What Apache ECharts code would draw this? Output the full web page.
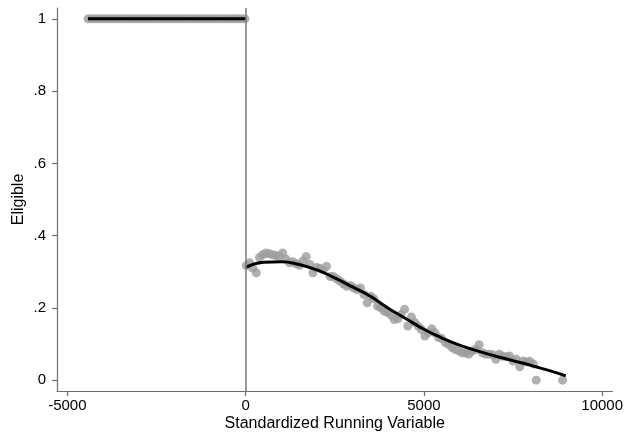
<!DOCTYPE html>
<html>
<head>
<meta charset="utf-8">
<script src="https://cdn.jsdelivr.net/npm/echarts@6/dist/echarts.min.js"></script>
<style>
  html, body { margin: 0; padding: 0; background: #fff; }
  #chart { width: 626px; height: 442px; }
</style>
</head>
<body>
<div id="chart"></div>
<script>
// Binned means below the cutoff (everyone eligible)
const leftX = [-4420, -4320, -4220, -4120, -4020, -3920, -3820, -3720, -3620, -3520,
  -3420, -3320, -3220, -3120, -3020, -2920, -2820, -2720, -2620, -2520,
  -2420, -2320, -2220, -2120, -2020, -1920, -1820, -1720, -1620, -1520,
  -1420, -1320, -1220, -1120, -1020, -920, -820, -720, -620, -520,
  -420, -320, -220, -120, -20];
const leftY = [1, 1, 1, 1, 1, 1, 1, 1, 1, 1,
  1, 1, 1, 1, 1, 1, 1, 1, 1, 1,
  1, 1, 1, 1, 1, 1, 1, 1, 1, 1,
  1, 1, 1, 1, 1, 1, 1, 1, 1, 1,
  1, 1, 1, 1, 1];

// Binned means above the cutoff
const rightX = [20, 110, 200, 300, 390, 480, 570, 660, 760, 850,
  940, 1040, 1130, 1230, 1320, 1420, 1510, 1610, 1700, 1800,
  1890, 1990, 2080, 2180, 2270, 2370, 2460, 2560, 2650, 2750,
  2840, 2940, 3030, 3130, 3220, 3320, 3410, 3510, 3600, 3700,
  3790, 3890, 3980, 4080, 4170, 4270, 4360, 4460, 4550, 4650,
  4740, 4840, 4930, 5030, 5120, 5220, 5310, 5410, 5500, 5600,
  5690, 5790, 5880, 5980, 6070, 6170, 6260, 6360, 6450, 6550,
  6640, 6740, 6830, 6930, 7020, 7120, 7210, 7310, 7400, 7500,
  7590, 7690, 7780, 7880, 7970, 8070, 8150, 8890];
const rightY = [0.317, 0.325, 0.310, 0.297, 0.340, 0.347, 0.352, 0.350, 0.347, 0.345,
  0.343, 0.352, 0.335, 0.325, 0.328, 0.322, 0.318, 0.330, 0.342, 0.320,
  0.297, 0.312, 0.310, 0.305, 0.315, 0.287, 0.287, 0.280, 0.274, 0.266,
  0.260, 0.262, 0.255, 0.250, 0.255, 0.237, 0.214, 0.232, 0.225, 0.205,
  0.200, 0.191, 0.187, 0.180, 0.168, 0.170, 0.182, 0.196, 0.150, 0.175,
  0.160, 0.150, 0.140, 0.122, 0.131, 0.142, 0.131, 0.118, 0.115, 0.104,
  0.099, 0.090, 0.085, 0.081, 0.076, 0.075, 0.072, 0.081, 0.085, 0.098,
  0.076, 0.072, 0.072, 0.070, 0.058, 0.072, 0.066, 0.065, 0.067, 0.053,
  0.058, 0.037, 0.053, 0.050, 0.052, 0.045, 0.000, 0.000];

// Fitted values on each side of the cutoff
const fitLeftX = [-4420, 0];
const fitLeftY = [1, 1];
const fitRightX = [0, 500, 1000, 1500, 2000, 2500, 3000, 3500, 4000, 4500,
  5000, 5500, 6000, 6500, 7000, 7500, 8000, 8500, 8980];
const fitRightY = [0.312, 0.326, 0.328, 0.320, 0.305, 0.283, 0.258, 0.232, 0.199, 0.170,
  0.141, 0.117, 0.097, 0.081, 0.067, 0.054, 0.041, 0.027, 0.012];

const xTicks = [-5000, 0, 5000, 10000];
const xTickLabels = ['-5000', '0', '5000', '10000'];
const yTicks = [0, 0.2, 0.4, 0.6, 0.8, 1];
const yTickLabels = ['0', '.2', '.4', '.6', '.8', '1'];
const cutoff = 0;

const pairs = (xs, ys) => xs.map((x, i) => [x, ys[i]]);
const labelFor = (ticks, labels) => v => {
  const i = ticks.findIndex(t => Math.abs(t - v) < 1e-9);
  return i >= 0 ? labels[i] : '';
};

const axisColor = '#6e6e6e';
const font = 'Liberation Sans, Arial, Helvetica, sans-serif';

const chart = echarts.init(document.getElementById('chart'), null, { renderer: 'canvas' });
chart.setOption({
  animation: false,
  backgroundColor: '#ffffff',
  grid: { left: 57, right: 13, top: 8, bottom: 51, containLabel: false },
  xAxis: {
    type: 'value',
    min: -5290,
    max: 10290,
    name: 'Standardized Running Variable',
    nameLocation: 'middle',
    nameGap: 25,
    nameMoveOverlap: false,
    nameTextStyle: { color: '#000', fontSize: 16, fontFamily: font },
    axisLine: { show: true, onZero: false, lineStyle: { color: axisColor, width: 1.2 } },
    axisTick: { show: true, length: 5, inside: false, customValues: xTicks, lineStyle: { color: axisColor, width: 1.2 } },
    axisLabel: { customValues: xTicks, color: '#000', fontSize: 15, fontFamily: font, margin: 7,
      formatter: labelFor(xTicks, xTickLabels) },
    splitLine: { show: false }
  },
  yAxis: {
    type: 'value',
    min: -0.03,
    max: 1.03,
    name: 'Eligible',
    nameLocation: 'middle',
    nameGap: 30,
    nameMoveOverlap: false,
    nameTextStyle: { color: '#000', fontSize: 16, fontFamily: font },
    axisLine: { show: true, onZero: false, lineStyle: { color: axisColor, width: 1.2 } },
    axisTick: { show: true, length: 5, inside: false, customValues: yTicks, lineStyle: { color: axisColor, width: 1.2 } },
    axisLabel: {
      customValues: yTicks,
      color: '#000', fontSize: 15, fontFamily: font, margin: 11,
      formatter: labelFor(yTicks, yTickLabels)
    },
    splitLine: { show: false }
  },
  series: [
    {
      type: 'scatter',
      data: pairs(leftX, leftY),
      symbolSize: 9,
      itemStyle: { color: '#9c9c9c' },
      silent: true,
      markLine: {
        silent: true,
        symbol: 'none',
        label: { show: false },
        lineStyle: { color: '#7a7a7a', width: 1.5, type: 'solid' },
        data: [{ xAxis: cutoff }]
      }
    },
    {
      type: 'scatter',
      data: pairs(rightX, rightY),
      symbolSize: 9,
      itemStyle: { color: '#9c9c9c' },
      silent: true
    },
    {
      type: 'line',
      data: pairs(fitLeftX, fitLeftY),
      showSymbol: false,
      lineStyle: { color: '#000', width: 3 },
      silent: true
    },
    {
      type: 'line',
      data: pairs(fitRightX, fitRightY),
      smooth: true,
      showSymbol: false,
      lineStyle: { color: '#000', width: 3 },
      silent: true
    }
  ]
});
</script>
</body>
</html>
